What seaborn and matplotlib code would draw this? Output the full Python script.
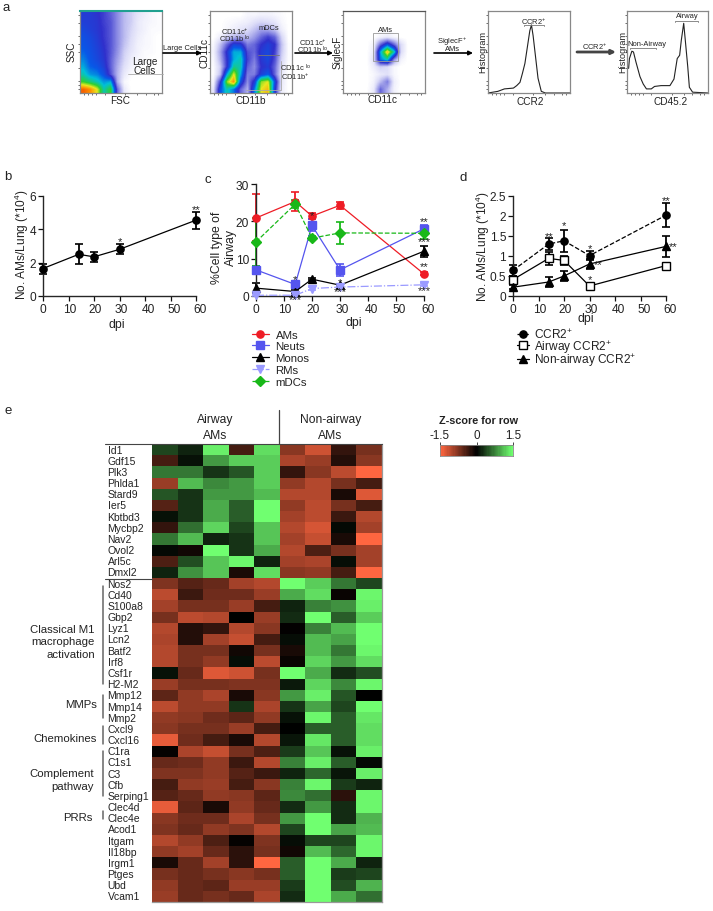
import numpy as np
import matplotlib
matplotlib.use("Agg")
import matplotlib.pyplot as plt
from matplotlib.colors import LinearSegmentedColormap
from matplotlib.patches import Rectangle
from matplotlib.transforms import ScaledTranslation
import seaborn as sns

# panel a, density read by eye on a coarse grid (top row first)
fsc_ssc = [
    [3.5, 3.5, 3.3, 3.0, 2.6, 2.0, 1.3, 1.0, 0.6, 0.4, 0.2, 0.1],
    [3.6, 3.5, 3.4, 3.0, 2.7, 2.0, 1.3, 1.0, 0.5, 0.3, 0.2, 0.1],
    [3.8, 3.6, 3.4, 3.1, 2.7, 2.0, 1.3, 0.9, 0.5, 0.3, 0.1, 0.1],
    [4.0, 3.8, 3.5, 3.1, 2.7, 2.0, 1.3, 0.8, 0.4, 0.2, 0.1, 0.0],
    [4.1, 3.9, 3.6, 3.2, 2.7, 2.0, 1.2, 0.7, 0.3, 0.2, 0.1, 0.0],
    [4.3, 4.0, 3.7, 3.3, 2.7, 1.9, 1.0, 0.6, 0.3, 0.1, 0.1, 0.0],
    [4.6, 4.1, 3.8, 3.4, 2.6, 1.7, 0.9, 0.4, 0.2, 0.1, 0.0, 0.0],
    [5.0, 4.3, 4.1, 3.6, 2.6, 1.5, 0.7, 0.3, 0.1, 0.0, 0.0, 0.0],
    [5.5, 4.8, 4.6, 4.0, 2.8, 1.4, 0.5, 0.1, 0.0, 0.0, 0.0, 0.0],
    [6.5, 6.0, 5.5, 4.8, 5.0, 1.5, 0.2, 0.0, 0.0, 0.0, 0.0, 0.0],
    [9.0, 8.5, 7.5, 5.5, 6.5, 2.5, 0.5, 0.0, 0.0, 0.0, 0.0, 0.0],
]
cd11b_cd11c = [
    [0.0, 0.0, 0.0, 0.0, 0.0, 0.2, 0.2, 0.3, 0.3, 0.2, 0.1, 0.0],
    [0.0, 0.0, 0.1, 0.2, 0.3, 0.4, 0.7, 0.9, 0.8, 0.6, 0.2, 0.0],
    [0.0, 0.0, 0.2, 0.4, 0.6, 0.8, 1.2, 1.7, 1.6, 1.2, 0.4, 0.0],
    [0.0, 0.4, 1.0, 1.4, 1.5, 1.3, 1.8, 2.5, 3.0, 2.5, 0.9, 0.0],
    [0.2, 1.2, 2.5, 3.7, 3.5, 2.2, 2.5, 3.2, 3.6, 3.2, 1.2, 0.1],
    [0.3, 1.6, 3.4, 5.0, 5.0, 2.8, 2.5, 3.5, 3.8, 3.0, 1.1, 0.1],
    [0.2, 1.4, 3.2, 5.0, 5.5, 3.0, 2.2, 3.4, 3.8, 2.8, 0.9, 0.1],
    [0.1, 1.0, 3.2, 5.8, 5.5, 2.6, 2.0, 3.2, 3.5, 2.5, 0.7, 0.0],
    [0.1, 1.2, 5.0, 7.5, 5.0, 2.2, 2.2, 3.6, 4.2, 2.5, 0.5, 0.0],
    [0.3, 3.0, 7.0, 8.5, 4.0, 2.0, 3.5, 7.0, 7.5, 4.0, 0.5, 0.0],
    [0.6, 4.0, 5.5, 4.5, 2.5, 1.5, 4.5, 7.5, 8.0, 3.5, 0.4, 0.0],
]
cd11c_siglecf = [
    [0, 0, 0, 0, 0, 0, 0, 0, 0, 0, 0, 0],
    [0, 0, 0, 0, 0, 0, 0, 0, 0, 0, 0, 0],
    [0, 0, 0, 0, 0, 0, 0, 0, 0, 0, 0, 0],
    [0, 0, 0, 0, 0, 0.3, 0.5, 0.2, 0, 0, 0, 0],
    [0, 0, 0, 0, 0.3, 2.5, 4.0, 2.5, 0.8, 0, 0, 0],
    [0, 0, 0, 0, 0.5, 5.0, 8.0, 5.5, 0.8, 0, 0, 0],
    [0, 0, 0, 0, 0.7, 4.5, 5.5, 2.0, 0.3, 0, 0, 0],
    [0, 0, 0, 0, 0.4, 1.0, 0.8, 0.2, 0, 0, 0, 0],
    [0, 0, 0, 0, 0.2, 0.5, 0.7, 0.2, 0, 0, 0, 0],
    [0, 0, 0, 0, 0.3, 1.3, 2.2, 0.4, 0, 0, 0, 0],
    [0, 0, 0, 0, 0.5, 2.5, 1.5, 0.3, 0, 0, 0, 0],
]

ccr2_x = [0, 12, 20, 31, 35, 39, 42, 45, 48, 51, 53, 55, 58, 61, 65, 70, 100]
ccr2_y = [0, 2, 5, 6, 9, 13, 24, 36, 56, 76, 83, 70, 44, 18, 2, 0, 0]
cd45_x = [2, 3, 6, 8, 11, 16, 20, 24, 30, 34, 42, 53, 58, 62, 65, 67, 70, 72, 75, 77, 81, 100]
cd45_y = [30, 42, 51, 50, 38, 20, 11, 5, 5, 8, 9, 9, 17, 42, 46, 64, 85, 64, 32, 7, 1, 0]

# panel b
dpi_b = [0, 14, 20, 30, 60]
ams_lung = [1.65, 2.5, 2.35, 2.8, 4.55]
ams_lung_err = [0.3, 0.6, 0.3, 0.3, 0.5]

# panel c
ams = [20.9, 25.3, 21.4, 24.3, 5.9]
ams_err = [6.3, 2.5, 0.8, 0.9, 0.4]
neuts = [7.0, 3.1, 18.9, 7.0, 18.0]
neuts_err = [1.0, 0.9, 1.6, 1.6, 1.0]
monos = [2.1, 1.2, 4.5, 2.9, 12.0]
monos_err = [1.3, 0.3, 0.3, 0.3, 1.5]
rms = [0.2, 0.2, 2.0, 2.4, 3.0]
rms_err = [0.3, 0.2, 0.5, 0.3, 0.4]
mdcs = [14.5, 24.6, 15.5, 16.9, 16.8]
mdcs_err = [6.5, 1.0, 0.5, 2.9, 1.5]

# panel d
ccr2_all = [0.64, 1.30, 1.38, 1.01, 2.02]
ccr2_all_err = [0.13, 0.15, 0.27, 0.12, 0.30]
ccr2_airway = [0.41, 0.94, 0.89, 0.25, 0.76]
ccr2_airway_err = [0.10, 0.17, 0.12, 0.03, 0.07]
ccr2_non = [0.22, 0.35, 0.50, 0.80, 1.24]
ccr2_non_err = [0.05, 0.12, 0.13, 0.13, 0.26]

# panel e
genes = ["Id1", "Gdf15", "Plk3", "Phlda1", "Stard9", "Ier5", "Kbtbd3", "Mycbp2", "Nav2", "Ovol2",
         "Arl5c", "Dmxl2", "Nos2", "Cd40", "S100a8", "Gbp2", "Lyz1", "Lcn2", "Batf2", "Irf8",
         "Csf1r", "H2-M2", "Mmp12", "Mmp14", "Mmp2", "Cxcl9", "Cxcl16", "C1ra", "C1s1", "C3",
         "Cfb", "Serping1", "Clec4d", "Clec4e", "Acod1", "Itgam", "Il18bp", "Irgm1", "Ptges",
         "Ubd", "Vcam1"]
zscores = [
    [0.4, 0.2, 1.4, -0.4, 1.3, -0.8, -1.2, -0.3, -0.7],
    [-0.4, 0.1, 0.9, 1.2, 1.2, -1.0, -0.9, -0.2, -0.8],
    [0.7, 0.7, 0.3, 0.5, 1.2, -0.3, -0.8, -1.1, -1.5],
    [-0.9, 1.1, 0.8, 0.9, 1.2, -0.85, -1.05, -0.7, -0.4],
    [0.5, 0.3, 0.9, 0.9, 1.1, -1.05, -1.05, -0.15, -1.3],
    [-0.5, 0.3, 1.0, 0.55, 1.5, -0.85, -1.1, -0.7, -0.4],
    [0.1, 0.3, 1.0, 0.55, 1.5, -0.95, -1.1, -0.35, -1.05],
    [-0.3, 0.65, 1.25, 0.4, 1.15, -1.05, -1.25, 0.05, -0.95],
    [0.7, 1.1, 0.2, 0.3, 1.15, -0.95, -1.15, -0.15, -1.5],
    [0.05, -0.1, 1.5, 0.3, 1.0, -1.05, -0.45, -0.7, -0.95],
    [-0.45, 0.45, 1.15, 1.45, 0.2, -0.95, -1.0, 0.08, -0.95],
    [0.2, 0.85, 1.15, -0.15, 1.3, -0.8, -0.85, -0.4, -1.5],
    [-0.75, -0.5, -0.6, -0.95, -1.05, 1.5, 1.2, 0.7, 0.4],
    [-1.1, -0.35, -0.65, -0.65, -0.9, 1.0, 1.3, -0.05, 1.45],
    [-0.95, -0.7, -0.7, -0.9, -0.4, 0.2, 0.75, 0.85, 1.4],
    [-0.7, -1.1, -1.05, 0.0, -0.9, 0.25, 1.5, 0.55, 1.2],
    [-1.05, -0.2, -0.3, -1.05, -0.8, -0.02, 0.75, 1.1, 1.5],
    [-1.0, -0.2, -0.95, -1.15, -0.4, 0.08, 1.1, 0.95, 1.5],
    [-1.05, -0.7, -0.7, -0.1, -0.7, -0.15, 1.1, 0.7, 1.45],
    [-1.05, -0.7, -0.85, 0.08, -1.1, -0.05, 1.25, 0.9, 1.3],
    [0.1, -0.6, -1.3, -1.2, -0.7, 1.5, 1.0, 0.25, 0.45],
    [-0.9, -0.7, -0.7, -0.75, -0.75, 0.15, 1.25, 0.8, 1.45],
    [-0.55, -0.85, -1.0, -0.15, -0.8, 0.9, 1.4, 0.5, 0.0],
    [-1.1, -0.85, -0.85, 0.3, -1.0, 0.3, 0.95, 0.4, 1.5],
    [-0.85, -0.8, -0.65, -0.55, -0.85, 0.1, 1.45, 0.55, 1.35],
    [-0.8, -0.7, -0.7, -0.9, -0.4, 0.0, 0.55, 0.55, 1.3],
    [-1.35, -0.65, -0.4, -0.15, -1.05, 0.12, 1.35, 0.55, 1.3],
    [-0.03, -1.0, -1.15, -0.7, -0.45, 0.35, 1.15, 0.1, 1.4],
    [-0.6, -0.65, -0.85, -0.35, -1.05, 0.75, 1.4, 0.55, 0.05],
    [-0.75, -0.75, -0.85, -0.5, -0.35, 0.2, 0.6, 0.12, 1.4],
    [-0.4, -0.85, -0.9, -0.4, -0.8, 0.75, 1.45, 0.35, 0.2],
    [-0.5, -0.6, -0.85, -0.8, -0.55, 0.8, 0.65, -0.25, 1.45],
    [-1.35, -0.55, -0.15, -0.85, -0.6, 0.25, 0.9, 0.25, 1.45],
    [-0.8, -0.65, -0.65, -1.0, -0.7, 0.9, 1.5, 0.25, 1.05],
    [-0.75, -0.6, -0.85, -0.75, -1.05, 0.4, 1.5, 0.95, 1.1],
    [-1.05, -0.85, -0.45, -0.03, -0.75, 0.08, 0.4, 0.4, 1.45],
    [-0.85, -0.95, -0.6, -0.25, -0.7, -0.1, 1.1, 0.6, 1.45],
    [-0.15, -0.6, -0.95, -0.25, -1.5, 0.55, 1.5, 1.0, 0.2],
    [-0.7, -0.6, -0.7, -0.8, -0.7, 0.55, 1.5, 0.35, 0.4],
    [-0.85, -0.6, -0.55, -0.9, -0.9, 0.35, 1.5, 0.45, 1.05],
    [-0.9, -0.6, -0.7, -0.6, -1.0, 0.25, 1.5, 1.0, 0.65],
]

W, H = 713, 912
sns.set_theme(style="ticks")
plt.rcParams["font.family"] = ["Liberation Sans", "DejaVu Sans"]
plt.rcParams["mathtext.default"] = "regular"
plt.rcParams["axes.linewidth"] = 1.0
TXT = "#222222"

flow_cmap = LinearSegmentedColormap.from_list("flow", [
    (0.0, "#ffffff"), (0.08, "#dcdcf8"), (0.2, "#8c8ce4"), (0.32, "#3030cc"), (0.42, "#0858e8"),
    (0.52, "#00c0d8"), (0.65, "#30d030"), (0.75, "#e8e820"), (0.85, "#ff9000"), (1.0, "#e81000")])
heat_cmap = LinearSegmentedColormap.from_list("zrow", ["#ff6640", "#000000", "#70ff70"])

fig = plt.figure(figsize=(W / 100, H / 100), dpi=100)


def px_axes(x0, y0, x1, y1):
    return fig.add_axes([x0 / W, 1 - y1 / H, (x1 - x0) / W, (y1 - y0) / H])


def flow_frame(ax):
    ax.set_xlim(0, 1)
    ax.set_ylim(0, 1)
    ax.set_xticks([0.05, 0.1, 0.15, 0.2, 0.3, 0.55, 0.7, 0.8, 0.9, 0.95])
    ax.set_yticks([0.05, 0.1, 0.15, 0.3, 0.5, 0.6, 0.7, 0.85, 0.95])
    ax.tick_params(length=1.5, width=0.5, labelbottom=False, labelleft=False, color="#333333", pad=1)
    for s in ax.spines.values():
        s.set_color("#888888")
        s.set_linewidth(0.9)


def flow_density(box, grid):
    ax = px_axes(*box)
    ax.imshow(grid, cmap=flow_cmap, vmin=0, vmax=10, extent=(0, 1, 0, 1), aspect="auto",
              interpolation="bilinear")
    flow_frame(ax)
    return ax


def flow_hist(box, xs, ys):
    ax = px_axes(*box)
    sns.lineplot(x=np.array(xs) / 100, y=np.array(ys) / 100, ax=ax, color="#222222", lw=0.8,
                 errorbar=None, sort=False)
    flow_frame(ax)
    return ax


ax1 = flow_density((80, 12, 162, 94), fsc_ssc)
ax1.spines["top"].set_color("#20a090")
ax1.spines["top"].set_linewidth(1.5)
flow_density((210, 12, 292, 94), cd11b_cd11c)
flow_density((343, 12, 425, 94), cd11c_siglecf).spines["top"].set_color("#555555")
flow_hist((488, 12, 570, 94), ccr2_x, ccr2_y)
flow_hist((627, 12, 708, 94), cd45_x, cd45_y)


def time_axes(box, ylim, yticks, ylabels):
    ax = px_axes(*box)
    ax.set_xlim(0, 60)
    ax.set_ylim(*ylim)
    ax.set_xticks(range(0, 61, 10))
    ax.set_yticks(yticks)
    ax.set_yticklabels(ylabels)
    ax.tick_params(labelsize=8.6, length=3.5, width=0.9, pad=1.5, colors="#111111", labelcolor=TXT)
    sns.despine(ax=ax)
    # the tick labels run slightly wider than the ticks in the original
    for i, lab in enumerate(ax.get_xticklabels()):
        lab.set_transform(lab.get_transform() + ScaledTranslation(i * 0.72 / 100, 0, fig.dpi_scale_trans))
    return ax


def series(ax, x, y, err, color, marker, label=None, ls="-", mfc=None, lw=0.9, ms=5.2, cap=3.2):
    sns.lineplot(x=x, y=y, ax=ax, color=color, marker=marker, linestyle=ls, label=label, lw=lw,
                 markersize=ms, markeredgecolor=color, markerfacecolor=mfc if mfc else color,
                 markeredgewidth=1.0, errorbar=None, clip_on=False, zorder=3)
    bars = ax.errorbar(x, y, yerr=err, fmt="none", ecolor=color, elinewidth=1.3, capsize=cap,
                       capthick=1.2, zorder=2)
    for part in bars.lines[1] + bars.lines[2]:
        part.set_clip_on(False)


def stars(ax, marks, color="#222222", size=8):
    for x, y, s in marks:
        ax.text(x, y, s, ha="center", va="center", fontsize=size, color=color, clip_on=False)


# panel b
ax_b = time_axes((43, 197, 196, 297), (0, 6), [0, 2, 4, 6], ["0", "2", "4", "6"])
series(ax_b, dpi_b, ams_lung, ams_lung_err, "black", "o")
stars(ax_b, [(30, 3.3, "*"), (60, 5.2, "**")])
ax_b.set_ylabel("")
ax_b.set_xlabel("")

# panel c
ax_c = time_axes((256, 185, 424, 297), (0, 30), [0, 10, 20, 30], ["0", "10", "20", "30"])
series(ax_c, dpi_b, ams, ams_err, "#ee1c25", "o", "AMs")
series(ax_c, dpi_b, neuts, neuts_err, "#5555ee", "s", "Neuts")
series(ax_c, dpi_b, monos, monos_err, "black", "^", "Monos")
series(ax_c, dpi_b, rms, rms_err, "#9a9aff", "v", "RMs", ls="-.")
series(ax_c, dpi_b, mdcs, mdcs_err, "#18b818", "D", "mDCs", ls="--", ms=4.6)
stars(ax_c, [(14, 4.6, "*"), (14, -0.7, "***"), (20, 21.6, "*"), (30, 3.6, "*"), (30, 1.3, "***"),
             (60, 20.2, "**"), (60, 14.6, "***"), (60, 7.9, "**"), (60, 1.6, "***")])
ax_c.legend(loc="upper left", bbox_to_anchor=(246 / W, 1 - 325 / H), bbox_transform=fig.transFigure,
            frameon=False, fontsize=8.2, handlelength=1.5, handletextpad=0.6, labelspacing=0.15,
            borderpad=0, labelcolor=TXT)

# panel d
ax_d = time_axes((513, 197, 666, 297), (0, 2.5), [0, 0.5, 1, 1.5, 2, 2.5],
                 ["0", "0.5", "1", "1.5", "2", "2.5"])
series(ax_d, dpi_b, ccr2_all, ccr2_all_err, "black", "o", "CCR2$^{+}$", ls="--")
series(ax_d, dpi_b, ccr2_airway, ccr2_airway_err, "black", "s", "Airway CCR2$^{+}$", mfc="white")
series(ax_d, dpi_b, ccr2_non, ccr2_non_err, "black", "^", "Non-airway CCR2$^{+}$")
stars(ax_d, [(14, 1.5, "**"), (20, 1.77, "*"), (30, 1.2, "*"), (33.5, 0.8, "**"), (30, 0.42, "*"),
             (60, 2.4, "**"), (63, 1.24, "**")])
ax_d.legend(loc="upper left", bbox_to_anchor=(511 / W, 1 - 322 / H), bbox_transform=fig.transFigure,
            frameon=False, fontsize=8.6, handlelength=1.0, handletextpad=0.4, labelspacing=-0.25,
            borderpad=0, labelcolor=TXT)

# panel e
ax_e = px_axes(152, 445, 382, 903)
sns.heatmap(np.array(zscores), ax=ax_e, cmap=heat_cmap, vmin=-1.5, vmax=1.5, cbar=False,
            xticklabels=False, yticklabels=genes)
ax_e.tick_params(axis="y", length=0, pad=32, labelsize=7.5, labelcolor=TXT, rotation=0)
for lab in ax_e.get_yticklabels():
    lab.set_ha("left")
for side in ["right", "bottom"]:
    ax_e.spines[side].set_visible(True)
    ax_e.spines[side].set_color("#999999")
    ax_e.spines[side].set_linewidth(0.9)

# colour key
ax_k = px_axes(440, 446, 513, 457)
key_vals = np.linspace(-1.5, 1.5, 60).reshape(1, -1)
sns.heatmap(key_vals, ax=ax_k, cmap=heat_cmap, vmin=-1.5, vmax=1.5, cbar=False, xticklabels=False,
            yticklabels=False)
ax_k.set_xticks([0, 30, 60])
ax_k.set_xticklabels(["-1.5", "0", "1.5"])
ax_k.xaxis.tick_top()
ax_k.tick_params(axis="x", length=2, width=0.6, labelsize=8.4, pad=1, labelcolor=TXT, rotation=0)
for s in ax_k.spines.values():
    s.set_visible(True)
    s.set_color("#888888")
    s.set_linewidth(0.6)

# overlay in pixels for the hand placed labels, arrows and gates
ov = fig.add_axes([0, 0, 1, 1], zorder=10)
ov.set_xlim(0, W)
ov.set_ylim(H, 0)
ov.axis("off")
ov.patch.set_alpha(0)


def t(x, y, s, size=8.6, ha="center", rot=0, **kw):
    ov.text(x, y, s, fontsize=size, ha=ha, va="center", rotation=rot, color=kw.pop("color", TXT), **kw)


for x, y, s in [(6, 8, "a"), (8, 177, "b"), (208, 180, "c"), (463, 178, "d"), (8, 411, "e")]:
    t(x, y, s, size=9.5)

# flow labels
t(72, 52, "SSC", 7.2, rot=90)
t(120, 101, "FSC", 7.2)
t(145, 62, "Large", 7.2)
t(145, 71, "Cells", 7.2)
t(204, 53, "CD11c", 7.2, rot=90)
t(251, 101, "CD11b", 7.2)
t(235, 31.5, "CD11c$^{+}$", 5.4)
t(235, 39.5, "CD11b $^{lo}$", 5.4)
t(269, 29, "mDCs", 5.4)
t(295, 68.5, "CD11c $^{lo}$", 5.4)
t(295, 77, "CD11b$^{+}$", 5.4)
t(337.5, 52, "SiglecF", 7.2, rot=90)
t(382, 100, "CD11c", 7.2)
t(385, 30, "AMs", 5.4)
t(482.5, 52, "Histogram", 6.6, rot=90)
t(530.5, 102, "CCR2", 7.2)
t(534, 22, "CCR2$^{+}$", 5.4)
t(622.5, 52, "Histogram", 6.6, rot=90)
t(670.5, 102, "CD45.2", 7.2)
t(687.5, 17, "Airway", 5.4)
t(647, 45, "Non-Airway", 5.4)
t(182, 48, "Large Cells", 5.4)
t(313, 42.5, "CD11c$^{+}$", 5.4)
t(313, 50, "CD11b $^{lo}$", 5.4)
t(452, 41.5, "SiglecF$^{+}$", 5.4)
t(452, 49.5, "AMs", 5.4)
t(595, 47, "CCR2$^{+}$", 5.4)

for x0, x1, y, color, lw in [(163, 202, 54, "black", 1.2), (295, 333, 54, "black", 1.2),
                             (434, 473, 54, "black", 1.2), (577, 616, 53, "#444444", 2.0)]:
    ov.annotate("", xy=(x1, y), xytext=(x0, y),
                arrowprops=dict(arrowstyle="-|>", color=color, lw=lw, mutation_scale=6,
                                shrinkA=0, shrinkB=0))

# gates
ov.plot([128, 163], [75, 75], color="#aaaaaa", lw=0.6)
ov.add_patch(Rectangle((373, 34), 25, 28, fill=False, ec="#999999", lw=0.6))
ov.plot([246, 281, 281], [91, 91, 62], color="#aaaaaa", lw=0.6)
ov.plot([258, 279], [56, 56], color="#777777", lw=0.6)
for x0, x1, y in [(524, 544, 26), (675, 698, 22), (630, 656, 49)]:
    ov.plot([x0, x0, x1, x1], [y + 1, y, y, y + 1], color="#777777", lw=0.6)

# axis labels of b, c, d
t(21.5, 245, "No. AMs/Lung (*10$^{4}$)", 8.6, rot=90)
t(117, 325, "dpi", 8.8)
t(217, 248, "%Cell type of", 8.8, rot=90)
t(231, 248, "Airway", 8.8, rot=90)
t(354, 323, "dpi", 8.8)
t(483, 246.5, "No. AMs/Lung (*10$^{4}$)", 8.6, rot=90)
t(586, 319, "dpi", 8.8)

# heatmap header and gene groups
t(215.5, 420, "Airway", 8.7)
t(215.5, 436, "AMs", 8.7)
t(330.5, 420, "Non-airway", 8.7)
t(330.5, 436, "AMs", 8.7)
ov.plot([279.3, 279.3], [411, 445], color="#444444", lw=0.9)
ov.plot([105, 382], [445.3, 445.3], color="#444444", lw=0.8)
ov.plot([105, 152], [580, 580], color="#444444", lw=0.8)
t(479, 421, "Z-score for row", 7.8, fontweight="bold")

t(95, 630, "Classical M1", 8.2, ha="right")
t(95, 642.5, "macrophage", 8.2, ha="right")
t(95, 655.5, "activation", 8.2, ha="right")
t(97, 705.5, "MMPs", 8.2, ha="right")
t(97, 739, "Chemokines", 8.2, ha="right")
t(94, 774, "Complement", 8.2, ha="right")
t(94, 787, "pathway", 8.2, ha="right")
t(93, 818, "PRRs", 8.2, ha="right")
for y0, y1 in [(587, 685), (696, 719), (727, 745), (752, 797), (812, 820)]:
    ov.plot([103.3, 103.3], [y0, y1], color="#666666", lw=1.1)

fig.savefig("out.png", dpi=100, facecolor="white")
